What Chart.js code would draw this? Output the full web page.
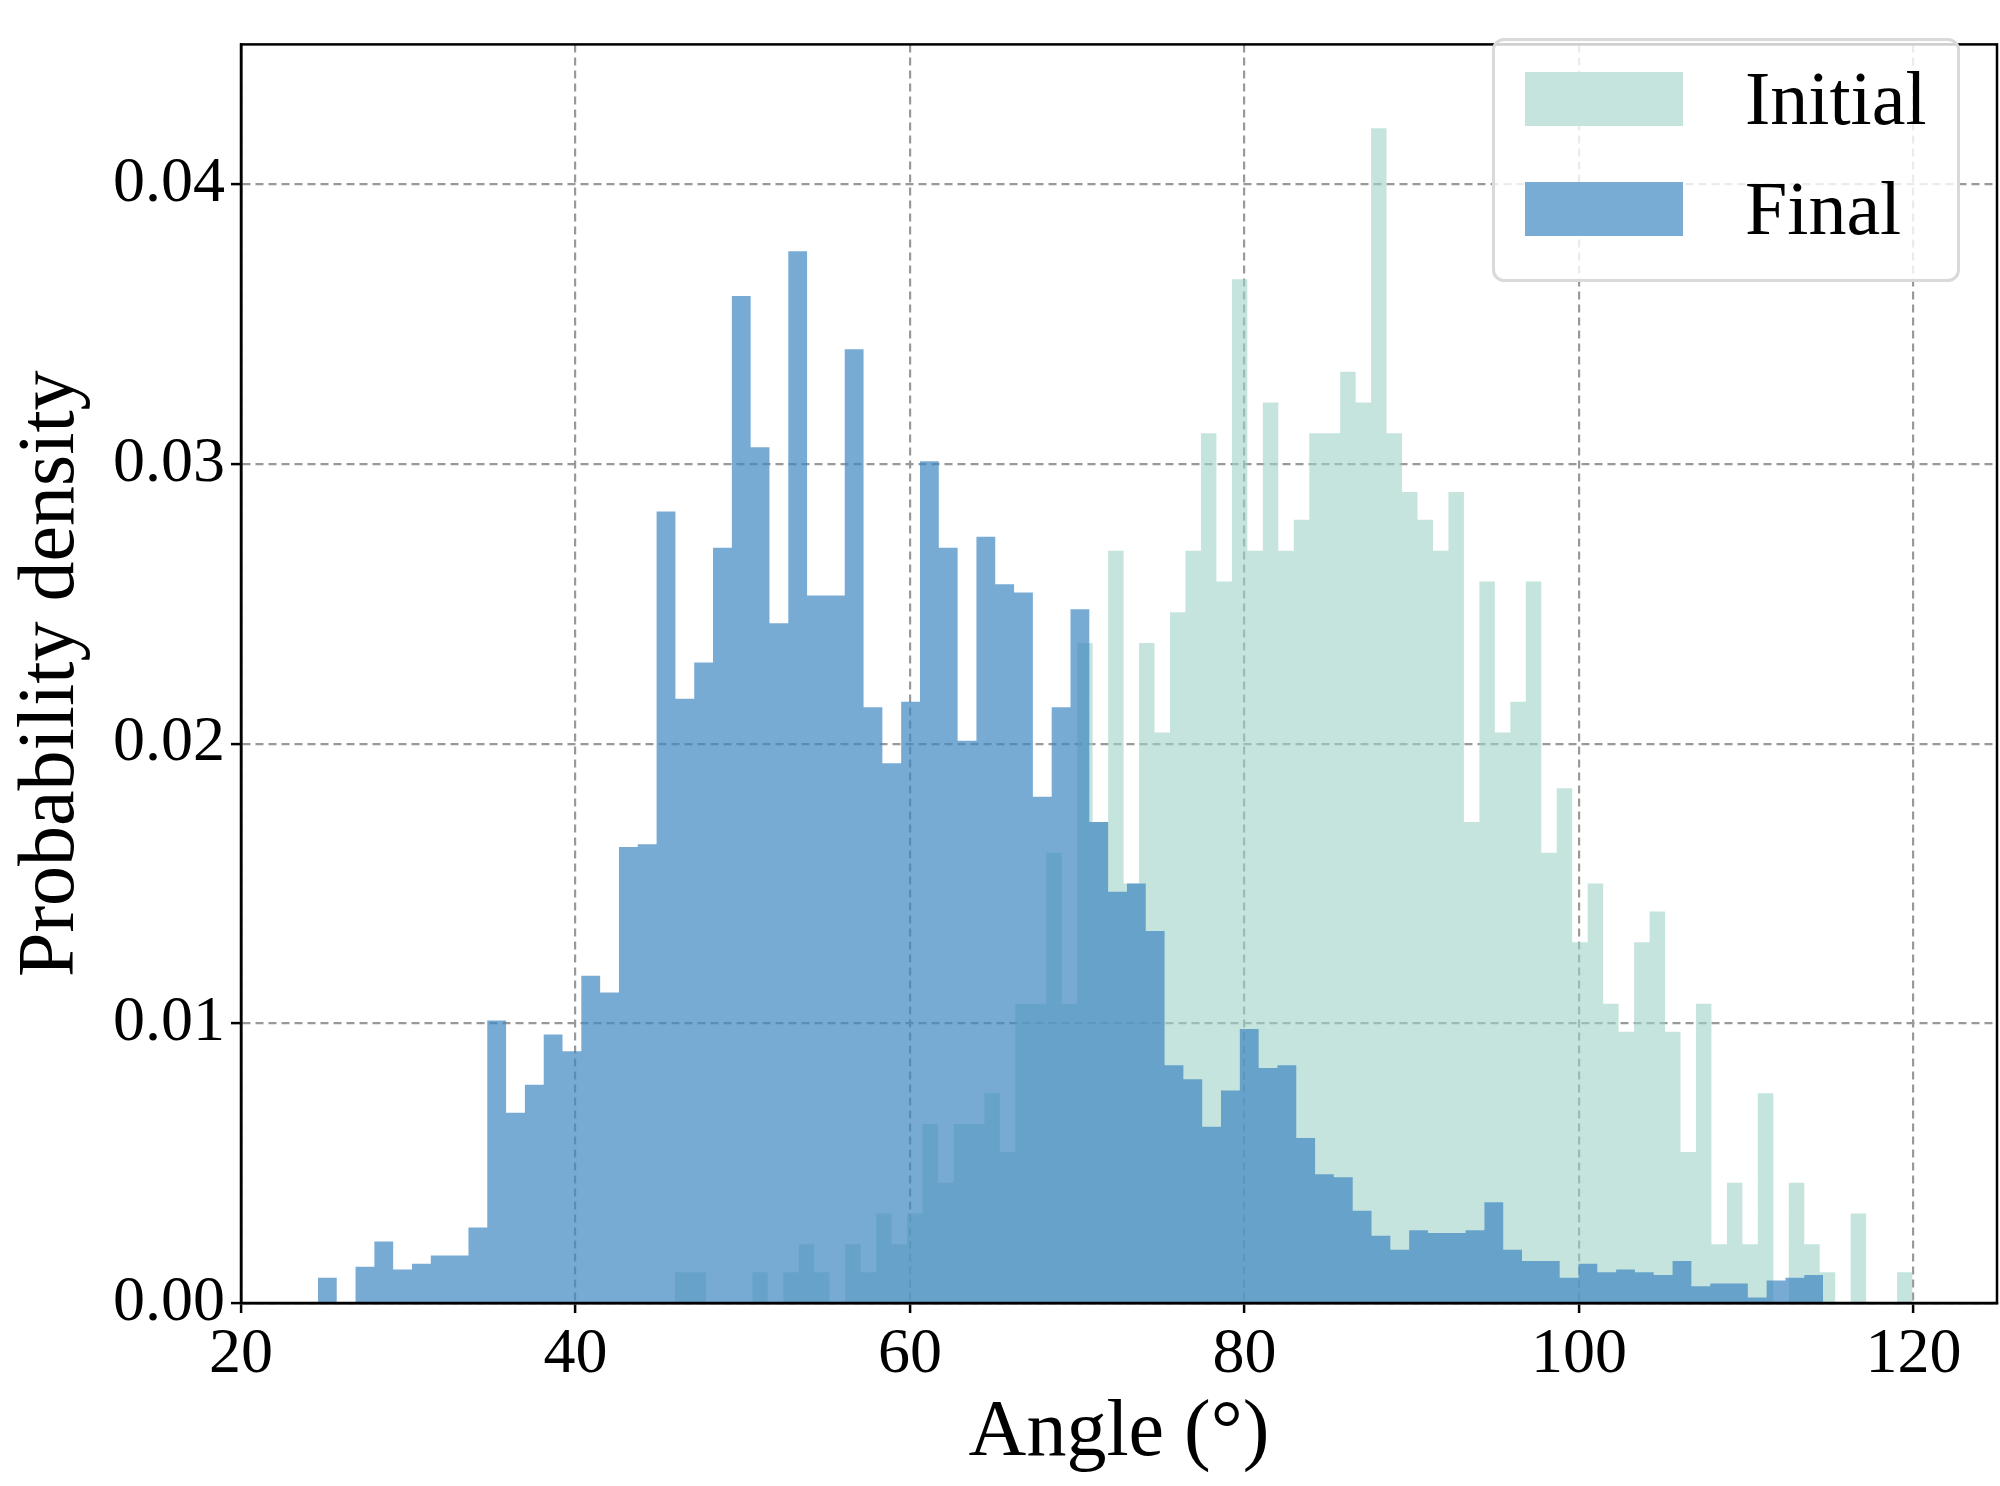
<!DOCTYPE html>
<html><head><meta charset="utf-8">
<script src="https://cdn.jsdelivr.net/npm/chart.js@4/dist/chart.umd.min.js"></script>
<style>
html,body{margin:0;padding:0;background:#fff;}
#wrap{position:relative;width:2000px;height:1486px;}
#legend{position:absolute;left:1492px;top:38px;width:468px;height:244px;border:3px solid #d9d9d9;border-radius:12px;background:rgba(255,255,255,0.8);box-sizing:border-box;font-family:"Liberation Serif",serif;font-size:76px;color:#000;}
.row{position:absolute;left:30px;display:flex;align-items:center;}
.sw{width:158px;height:54px;margin-right:62px;}
</style></head><body>
<div id="wrap"><canvas id="c" width="2000" height="1486"></canvas>
<div id="legend">
<div class="row" style="top:14px"><div class="sw" style="background:#c6e4de"></div><span>Initial</span></div>
<div class="row" style="top:124px"><div class="sw" style="background:#78acd4"></div><span>Final</span></div>
</div></div>
<script>
const finalStart = 24.6, finalWidth = 1.125;
const finalValues = [0.0009,0,0.0013,0.0022,0.0012,0.0014,0.0017,0.0017,0.0027,0.0101,
0.0068,0.0078,0.0096,0.0090,0.0117,0.0111,0.0163,0.0164,0.0283,0.0216,
0.0229,0.0270,0.0360,0.0306,0.0243,0.0376,0.0253,0.0253,0.0341,0.0213,
0.0193,0.0215,0.0301,0.0270,0.0201,0.0274,0.0257,0.0254,0.0181,0.0213,
0.0248,0.0172,0.0147,0.0150,0.0133,0.0085,0.0080,0.0063,0.0076,0.0098,
0.0084,0.0085,0.0059,0.0046,0.0045,0.0033,0.0024,0.0019,0.0026,0.0025,
0.0025,0.0026,0.0036,0.0019,0.0015,0.0015,0.0009,0.0014,0.0011,0.0012,
0.0011,0.0010,0.0015,0.0006,0.0007,0.0007,0.0002,0.0008,0.0009,0.0010];
const initialStart = 45.95, initialWidth = 0.925;
const initialValues = [0.0011,0.0011,0,0,0,0.0011,0,0.0011,0.0021,0.0011,
0,0.0021,0.0011,0.0032,0.0021,0.0032,0.0064,0.0043,0.0064,0.0064,
0.0075,0.0054,0.0107,0.0107,0.0161,0.0107,0.0236,0.0172,0.0269,0.0150,
0.0236,0.0204,0.0247,0.0269,0.0311,0.0258,0.0366,0.0269,0.0322,0.0269,
0.0280,0.0311,0.0311,0.0333,0.0322,0.0420,0.0311,0.0290,0.0280,0.0269,
0.0290,0.0172,0.0258,0.0204,0.0215,0.0258,0.0161,0.0184,0.0129,0.0150,
0.0107,0.0097,0.0129,0.0140,0.0097,0.0054,0.0107,0.0021,0.0043,0.0021,
0.0075,0,0.0043,0.0021,0.0011,0,0.0032,0,0,0.0011];
const xTicks = [20,40,60,80,100,120];
const yTicks = [0,0.01,0.02,0.03,0.04];

function steps(start,w,vals){
  const pts = [{x:start,y:0}];
  vals.forEach((v,i)=>pts.push({x:start+i*w,y:v}));
  pts.push({x:start+vals.length*w,y:vals[vals.length-1]});
  pts.push({x:start+vals.length*w,y:0});
  return pts;
}
const serif = '"Liberation Serif", serif';
const font = {family:serif, size:64};
const grid = {color:'#999', lineWidth:2.2, tickColor:'#000', tickBorderDash:[], tickLength:10, tickWidth:2.5};
const frame = {id:'frame', afterDraw(c){const a=c.chartArea, x=c.ctx; x.save(); x.strokeStyle='#000'; x.lineWidth=2.5; x.strokeRect(a.left,a.top,a.right-a.left,a.bottom-a.top); x.restore();}};
new Chart(document.getElementById('c'),{
  type:'line',
  data:{datasets:[
    {label:'Initial', order:2, data:steps(initialStart,initialWidth,initialValues), stepped:'before', fill:'origin', backgroundColor:'rgba(160,210,200,0.6)', borderWidth:0, pointRadius:0},
    {label:'Final', order:1, data:steps(finalStart,finalWidth,finalValues), stepped:'before', fill:'origin', backgroundColor:'rgba(62,136,194,0.7)', borderWidth:0, pointRadius:0}
  ]},
  options:{
    responsive:false, animation:false,
    layout:{padding:{top:2,right:3,left:0,bottom:0}},
    plugins:{legend:{display:false}, tooltip:{enabled:false}},
    scales:{
      x:{type:'linear', min:20, max:125, afterBuildTicks:s=>{s.ticks=xTicks.map(v=>({value:v}));},
         ticks:{font, color:'#000', autoSkip:false, maxRotation:0, padding:4},
         grid, border:{color:'#000', width:2.5, dash:[8,5]},
         title:{display:true, text:'Angle (°)', font:{family:serif, size:80}, color:'#000', padding:{top:0}},
         afterFit:s=>{s.height=183;}},
      y:{min:0, max:0.045, afterBuildTicks:s=>{s.ticks=yTicks.map(v=>({value:v}));},
         ticks:{font, color:'#000', callback:v=>v.toFixed(2), padding:6},
         grid, border:{color:'#000', width:2.5, dash:[8,5]},
         title:{display:true, text:'Probability density', font:{family:serif, size:80}, color:'#000', padding:{bottom:0}},
         afterFit:s=>{s.width=241;}}
    }
  },
  plugins:[frame]
});
</script></body></html>
